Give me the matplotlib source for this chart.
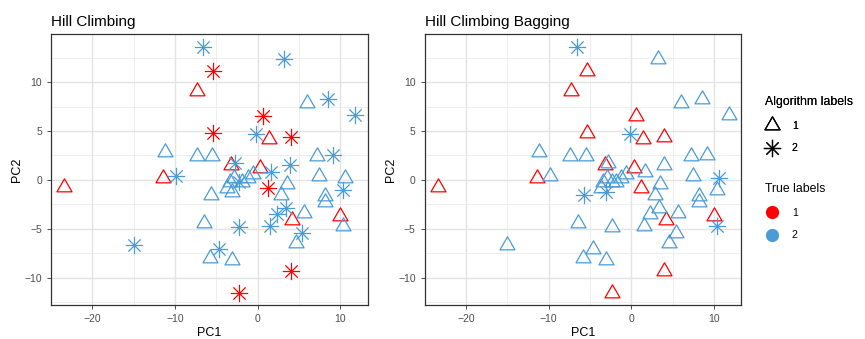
import numpy as np
import matplotlib
matplotlib.use("Agg")
from matplotlib import pyplot as plt
from matplotlib.path import Path
from matplotlib.lines import Line2D

plt.rcParams['font.family'] = ['Liberation Sans', 'DejaVu Sans']

# PCA coordinates of the samples (same in both panels)
pc1 = [-23.4, -5.4, -7.3, 0.6, -5.4, 1.4, 4.0, -3.2, 0.3, 1.2, -11.4, 10.0, 4.2, 4.0, -2.3,
       -6.6, 3.2, 6.0, 8.5, 11.8, -0.2, -11.2, -7.4, -5.5, -2.8, 1.6, 7.2, 9.1, 3.9, 7.4,
       10.6, 10.3, 8.2, 8.2, 10.3, 3.5, 2.8, 3.4, 2.3, 5.6, 5.4, 4.6, -3.1, -5.8, -4.7,
       -15.0, -6.5, -2.3, 1.5, -9.9, -3.4, -2.9, -2.3, -1.9, -1.2, -0.6, -3.7, -3.1, -5.7]
pc2 = [-0.7, 11.1, 9.1, 6.5, 4.8, 4.2, 4.4, 1.5, 1.2, -0.8, 0.2, -3.7, -4.1, -9.3, -11.6,
       13.6, 12.4, 7.9, 8.3, 6.6, 4.7, 2.9, 2.4, 2.4, 1.7, 0.8, 2.4, 2.5, 1.5, 0.4,
       0.2, -1.0, -1.6, -2.3, -4.7, -0.4, -1.5, -2.9, -3.5, -3.4, -5.4, -6.5, -8.2, -8.0, -7.1,
       -6.7, -4.4, -4.8, -4.7, 0.4, -0.2, 0.2, -0.2, -0.2, 0.2, 0.6, -0.8, -1.2, -1.5]
true_labels = [1] * 15 + [2] * 44
hc_labels = [1, 2, 1, 2, 2, 1, 2, 1, 1, 2, 1, 1, 1, 2, 2,
             2, 2, 1, 2, 2, 2, 1, 1, 1, 2, 2, 1, 2, 2, 1,
             1, 2, 1, 1, 1, 1, 1, 2, 2, 1, 2, 1, 1, 1, 2,
             2, 1, 2, 2, 2, 1, 1, 2, 1, 1, 1, 1, 1, 1]
hcb_labels = [1] * 15 + [2, 1, 1, 1, 1, 2, 1, 1, 1, 1, 1, 1, 1, 1, 1,
                         2, 1, 1, 1, 2, 1, 1, 1, 1, 1, 1, 1, 1, 1, 1,
                         1, 1, 1, 1, 1, 1, 1, 1, 1, 1, 1, 1, 2, 2]

titles = ['Hill Climbing', 'Hill Climbing Bagging']
colors = {1: '#FF0000', 2: '#4A9BD6'}

# ggplot-like open triangle and asterisk
tri = Path([(0, 1), (-0.866, -0.5), (0.866, -0.5), (0, 1)],
           [Path.MOVETO, Path.LINETO, Path.LINETO, Path.CLOSEPOLY])
d = 0.707
star = Path([(0, -1), (0, 1), (-1, 0), (1, 0), (-d, -d), (d, d), (-d, d), (d, -d)],
            [Path.MOVETO, Path.LINETO] * 4)
shapes = {1: tri, 2: star}
sizes = {1: 12.5, 2: 12.5}

x = np.array(pc1)
y = np.array(pc2)
tl = np.array(true_labels)

fig = plt.figure(figsize=(8.65, 3.39), dpi=100)
axes = [fig.add_axes([0.059, 0.100, 0.366, 0.799]),
        fig.add_axes([0.491, 0.100, 0.366, 0.799])]

for ax, title, labs in zip(axes, titles, [hc_labels, hcb_labels]):
    labs = np.array(labs)
    ax.set_xlim(-25.0, 13.3)
    ax.set_ylim(-12.8, 14.9)
    for v in [-25, -15, -5, 5]:
        ax.axvline(v, color='#EBEBEB', lw=0.6, zorder=0)
    for v in [-20, -10, 0, 10]:
        ax.axvline(v, color='#E3E3E3', lw=1.0, zorder=0)
    for v in [-12.5, -7.5, -2.5, 2.5, 7.5, 12.5]:
        ax.axhline(v, color='#EBEBEB', lw=0.6, zorder=0)
    for v in [-10, -5, 0, 5, 10]:
        ax.axhline(v, color='#E3E3E3', lw=1.0, zorder=0)
    for i in range(len(x)):
        ax.plot(x[i], y[i], linestyle='none', marker=shapes[labs[i]], ms=sizes[labs[i]],
                mfc='none', mec=colors[tl[i]], mew=0.9, zorder=3)
    ax.set_xticks([-20, -10, 0, 10])
    ax.set_yticks([-10, -5, 0, 5, 10])
    ax.tick_params(labelsize=7.5, labelcolor='#4D4D4D', color='#333333', length=3, width=0.6)
    for s in ax.spines.values():
        s.set_color('#333333')
        s.set_linewidth(0.9)
    ax.set_xlabel('PC1', fontsize=9, labelpad=2)
    ax.set_ylabel('PC2', fontsize=9, labelpad=1)
    ax.set_title(title, fontsize=11, loc='left', pad=6)

h_alg = [Line2D([], [], linestyle='none', marker=shapes[k], ms=sizes[k], mfc='none',
                mec='black', mew=0.9) for k in [1, 2]]
h_true = [Line2D([], [], linestyle='none', marker='o', ms=8.5, color=colors[k]) for k in [1, 2]]

leg_kw = dict(loc='upper left', frameon=False, fontsize=7.5, title_fontsize=8.8,
              alignment='left', handlelength=1.4, handletextpad=1.2,
              labelspacing=1.2, borderaxespad=0, borderpad=0)
leg1 = fig.legend(h_alg, ['1', '2'], title='Algorithm labels',
                  bbox_to_anchor=(0.884, 0.716), **leg_kw)
fig.legend(h_true, ['1', '2'], title='True labels',
           bbox_to_anchor=(0.884, 0.459), **leg_kw)
fig.add_artist(leg1)

fig.savefig('out.png', dpi=100)
